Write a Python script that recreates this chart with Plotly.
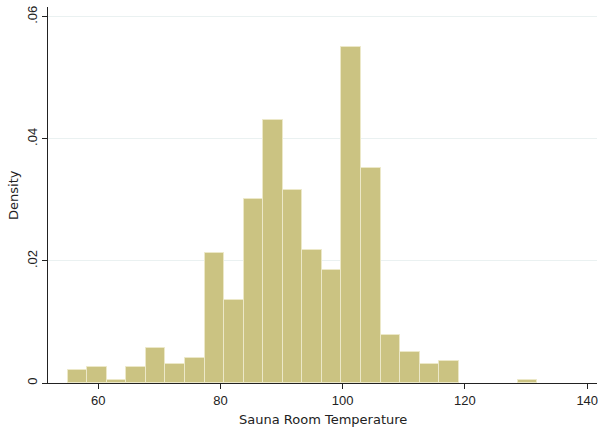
import plotly.graph_objects as go

bin_start = 55.0
bin_width = 3.2
densities = [0.00206, 0.00255, 0.00054, 0.00255, 0.00573, 0.00305, 0.00409,
             0.02128, 0.01352, 0.03011, 0.04309, 0.03159, 0.02182, 0.01855,
             0.05504, 0.03529, 0.00779, 0.00512, 0.00305, 0.00360,
             0.0, 0.0, 0.0, 0.00054]
x_ticks = [60, 80, 100, 120, 140]
y_ticks = [0, 0.02, 0.04, 0.06]
y_tick_labels = ["0", ".02", ".04", ".06"]

centers = [bin_start + bin_width * (i + 0.5) for i in range(len(densities))]
line_widths = [1 if d > 0 else 0 for d in densities]

fig = go.Figure(go.Bar(
    x=centers, y=densities, width=bin_width,
    marker=dict(color="#cbc382", line=dict(color="#ece8c8", width=line_widths)),
))

font = "DejaVu Sans, Liberation Sans, Arial, sans-serif"
tick_font = dict(family="Liberation Sans, Arial, sans-serif", size=13)
fig.update_layout(
    width=598, height=431,
    margin=dict(l=48, r=1, t=7, b=48),
    paper_bgcolor="white", plot_bgcolor="white",
    showlegend=False, bargap=0,
    font=dict(family=font, size=13, color="#222"),
    xaxis=dict(
        range=[51.8, 141.6], tickvals=x_ticks, ticks="outside", ticklen=5,
        tickcolor="#222", showline=True, linecolor="#222", linewidth=1,
        showgrid=False, zeroline=False, automargin=False, layer="above traces",
        tickfont=tick_font, ticklabeloverflow="allow",
    ),
    yaxis=dict(
        range=[0, 0.0616], tickvals=y_ticks, ticktext=y_tick_labels,
        tickangle=-90, ticks="outside", ticklen=5, tickcolor="#222",
        showline=True, linecolor="#222", linewidth=1,
        showgrid=True, gridcolor="#eaf1f1", gridwidth=1, zeroline=False,
        automargin=False, tickfont=tick_font, ticklabeloverflow="allow",
    ),
    annotations=[
        dict(text="Sauna Room Temperature", xref="paper", yref="paper",
             x=0.5, y=0, yshift=-36, xanchor="center", yanchor="middle",
             showarrow=False, font=dict(size=13)),
        dict(text="Density", xref="paper", yref="paper",
             x=0, y=0.5, xshift=-35, xanchor="center", yanchor="middle",
             textangle=-90, showarrow=False, font=dict(size=13)),
    ],
)

fig.write_html("out.html", config={"displayModeBar": False},
               post_script="document.body.style.margin='0';document.body.style.overflow='hidden';")
